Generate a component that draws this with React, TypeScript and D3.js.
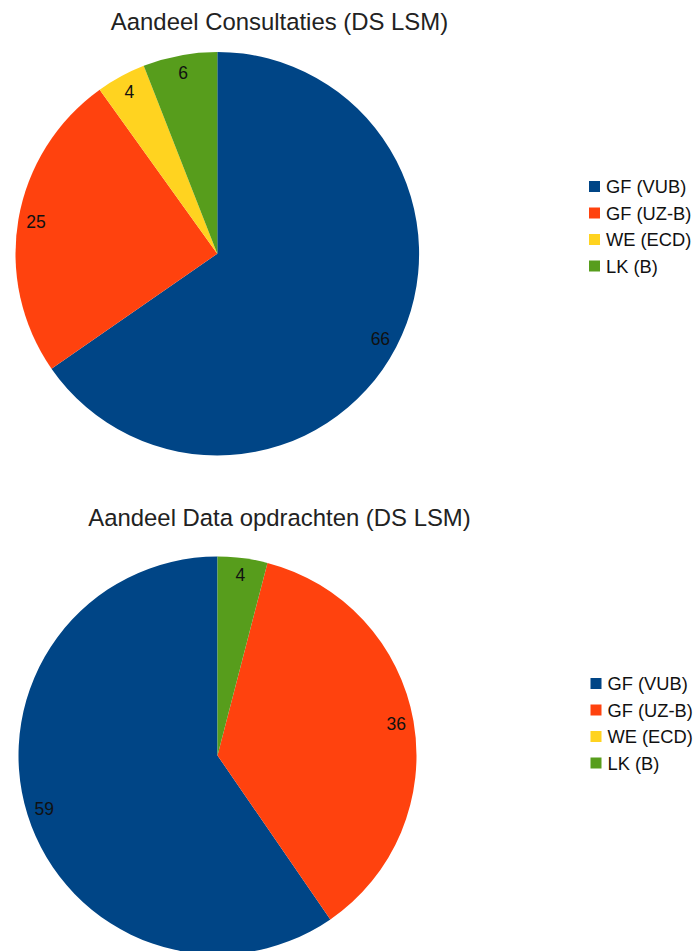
import React from "react";
import * as d3 from "d3";

const categories = ["GF (VUB)", "GF (UZ-B)", "WE (ECD)", "LK (B)"];
const consultaties = [66, 25, 4, 6];
const dataOpdrachten = [59, 36, 0, 4];
const colors = ["#004586", "#ff420e", "#ffd320", "#579d1c"];
const titles = ["Aandeel Consultaties (DS LSM)", "Aandeel Data opdrachten (DS LSM)"];

const FONT = "'Liberation Sans', Arial, sans-serif";

type PieProps = {
  values: number[];
  cx: number;
  cy: number;
  r: number;
  clockwise: boolean;
};

function Pie({ values, cx, cy, r, clockwise }: PieProps) {
  const pie = d3
    .pie<number>()
    .sort(null)
    .value((d) => d)
    .startAngle(0)
    .endAngle(clockwise ? 2 * Math.PI : -2 * Math.PI);
  const arcs = pie(values);
  const arc = d3.arc<d3.PieArcDatum<number>>().innerRadius(0).outerRadius(r);
  const lr = r * 0.912;
  const labelArc = d3.arc<d3.PieArcDatum<number>>().innerRadius(lr).outerRadius(lr);
  return (
    <g transform={`translate(${cx},${cy})`}>
      {arcs.map((a, i) =>
        a.value > 0 ? <path key={i} d={arc(a) || ""} fill={colors[i]} /> : null
      )}
      {arcs.map((a, i) => {
        if (a.value <= 0) return null;
        const [x, y] = labelArc.centroid(a);
        return (
          <text
            key={"l" + i}
            x={x}
            y={y}
            textAnchor="middle"
            dominantBaseline="central"
            fontSize={17.5}
            fontFamily={FONT}
            fill="#111"
          >
            {a.value}
          </text>
        );
      })}
    </g>
  );
}

function Legend({ x, y }: { x: number; y: number }) {
  const step = 26.5;
  return (
    <g transform={`translate(${x},${y})`}>
      {categories.map((c, i) => (
        <g key={c} transform={`translate(0,${i * step})`}>
          <rect x={0} y={0} width={11} height={11} fill={colors[i]} />
          <text
            x={17}
            y={5.5}
            dominantBaseline="central"
            fontSize={18.3}
            fontFamily={FONT}
            fill="#111"
          >
            {c}
          </text>
        </g>
      ))}
    </g>
  );
}

export default function App() {
  return (
    <svg
      width={694}
      height={951}
      style={{ position: "absolute", left: 0, top: 0, background: "#fff" }}
    >
      <text x={279.5} y={30} textAnchor="middle" fontSize={23.9} fontFamily={FONT} fill="#222">
        {titles[0]}
      </text>
      <Pie values={consultaties} cx={217.3} cy={253.7} r={201.8} clockwise={true} />
      <Legend x={589} y={181} />

      <text x={279.5} y={526} textAnchor="middle" fontSize={23.9} fontFamily={FONT} fill="#222">
        {titles[1]}
      </text>
      <Pie values={dataOpdrachten} cx={217.5} cy={755.5} r={199} clockwise={false} />
      <Legend x={590.5} y={678} />
    </svg>
  );
}
